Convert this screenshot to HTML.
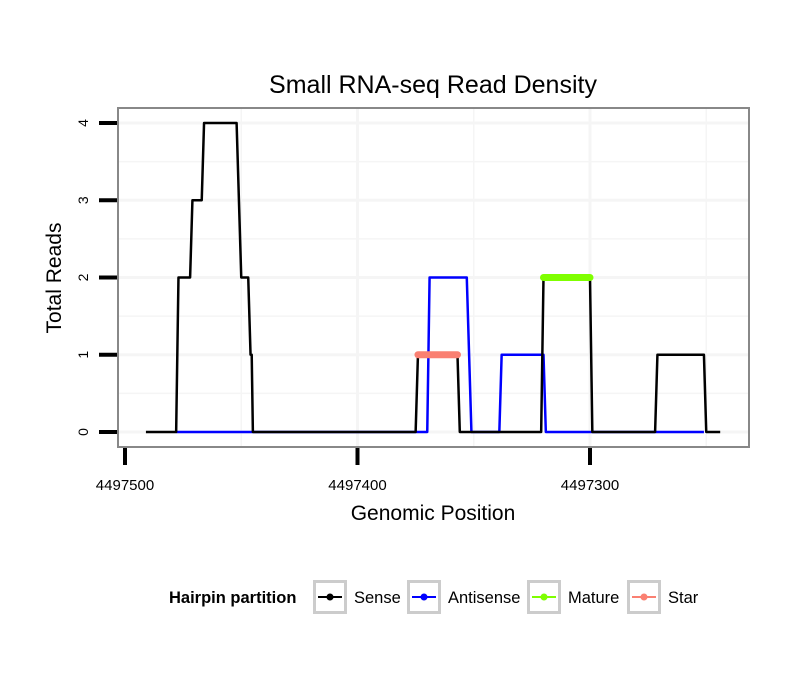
<!DOCTYPE html>
<html><head><meta charset="utf-8"><style>
body{margin:0;background:#fff}
svg text{font-family:"Liberation Sans",Arial,sans-serif}
</style></head><body>
<svg id="chart" width="810" height="690" xmlns="http://www.w3.org/2000/svg">
<text x="433" y="93" font-size="25" text-anchor="middle">Small RNA-seq Read Density</text>
<g id="grid"></g>
<g id="series"></g>
<rect x="118" y="108" width="631" height="339" fill="none" stroke="#888" stroke-width="2"/>
<g id="axes"></g>
<text x="433" y="520" font-size="21" text-anchor="middle">Genomic Position</text>
<text transform="translate(61,278) rotate(-90)" font-size="21" text-anchor="middle">Total Reads</text>
<g>
<text x="169" y="603" font-size="16.5" font-weight="bold">Hairpin partition</text>
<g id="legend"></g>
</g>
</svg>
<script>
const xTicks=[4497500,4497400,4497300];
const yTicks=[0,1,2,3,4];
const sensePos=[4497491,4497478,4497477,4497472,4497471,4497467,4497466,4497452,4497450,4497447,4497446,4497445.5,4497445,4497375,4497374,4497357,4497356,4497321,4497320,4497300,4497299,4497272,4497271,4497251,4497250,4497244];
const senseVal=[0,0,2,2,3,3,4,4,2,2,1,1,0,0,1,1,0,0,2,2,0,0,1,1,0,0];
const antiPos=[4497478,4497370,4497369,4497353,4497351,4497339,4497338,4497320,4497319,4497251];
const antiVal=[0,0,2,2,0,0,1,1,0,0];
const maturePos=[4497320,4497300];
const matureVal=[2,2];
const starPos=[4497374,4497357];
const starVal=[1,1];
const legendNames=["Sense","Antisense","Mature","Star"];
const legendColors=["#000","#00f","#7fff00","#fa8072"];

const NS="http://www.w3.org/2000/svg";
const X=g=>125+(4497500-g)*2.325;
const Y=v=>432-v*77.25;
function mk(t,a,p){const e=document.createElementNS(NS,t);for(const k in a)e.setAttribute(k,a[k]);p.appendChild(e);return e;}
const grid=document.getElementById('grid'),axes=document.getElementById('axes'),ser=document.getElementById('series'),leg=document.getElementById('legend');
for(let v=0;v<=4;v+=0.5){const l=mk('line',{x1:118,x2:749,y1:Y(v),y2:Y(v),stroke:'#f5f5f5','stroke-width':v%1?1.5:3},grid);

}
for(let g=4497450;g>=4497250;g-=50){const l=mk('line',{x1:X(g),x2:X(g),y1:108,y2:447,stroke:'#f5f5f5','stroke-width':g%100?1.5:3},grid);

}
yTicks.forEach(v=>{const t=mk('line',{x1:99,x2:117,y1:Y(v),y2:Y(v),stroke:'#000','stroke-width':4},axes);


const tx=mk('text',{transform:`translate(${88},${Y(v)}) rotate(-90)`,'font-size':14,'text-anchor':'middle'},axes);tx.textContent=v;

});
xTicks.forEach(g=>{const t=mk('line',{x1:X(g),x2:X(g),y1:448,y2:465,stroke:'#000','stroke-width':4},axes);


const tx=mk('text',{x:X(g),y:490,'font-size':15,'text-anchor':'middle'},axes);tx.textContent=g;

});
function line(pos,val,color,w,name){const d=pos.map((p,i)=>(i?'L':'M')+X(p).toFixed(2)+','+Y(val[i]).toFixed(2)).join('');
const e=mk('path',{d,fill:'none',stroke:color,'stroke-width':w,'stroke-linecap':w>4?'round':'butt','stroke-linejoin':'round'},ser);

}
line(antiPos,antiVal,'#00f',2.5,'antisense-line');
line(sensePos,senseVal,'#000',2.5,'sense-line');
line(maturePos,matureVal,'#7fff00',7,'mature-segment');
line(starPos,starVal,'#fa8072',7,'star-segment');
const bx=[313,407,527,627],tx=[354,448,568,668];
legendNames.forEach((n,i)=>{const g=mk('g',{},leg);


mk('rect',{x:bx[i]+1.5,y:581.5,width:31,height:31,fill:'#fff',stroke:'#ccc','stroke-width':3},g);
mk('line',{x1:bx[i]+5,x2:bx[i]+29,y1:597,y2:597,stroke:legendColors[i],'stroke-width':2},g);
mk('circle',{cx:bx[i]+17,cy:597,r:3.5,fill:legendColors[i]},g);
const t=mk('text',{x:tx[i],y:603,'font-size':16.5},g);t.textContent=n;});
</script>
</body></html>
